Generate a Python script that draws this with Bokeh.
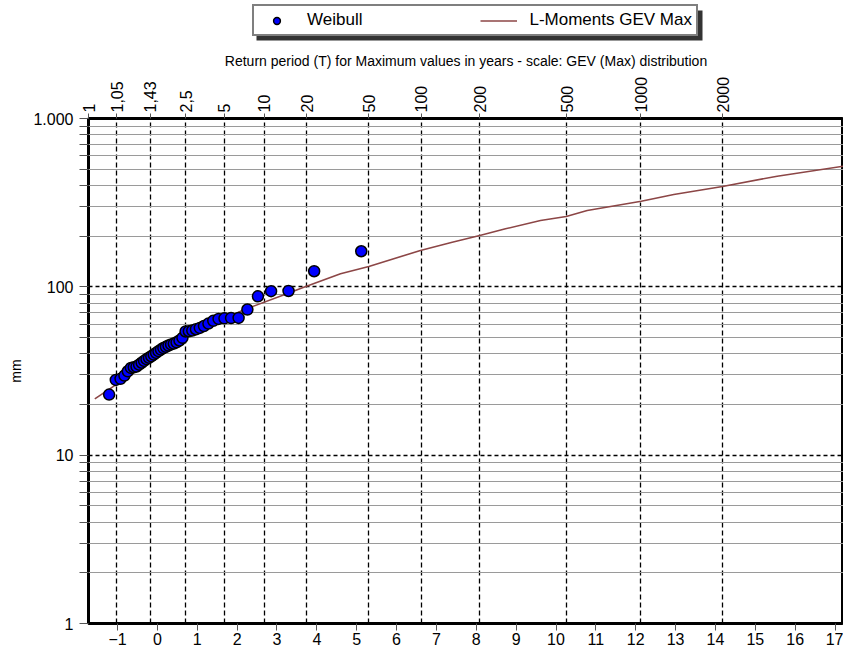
import math
from bokeh.plotting import figure
from bokeh.layouts import column
from bokeh.models import (Range1d, FixedTicker, LinearAxis, CustomJSTickFormatter,
                          Legend, LegendItem, BoxAnnotation)
from bokeh.embed import file_html
from bokeh.resources import INLINE

# ---- horizontal scale: GEV (Max) reduced variate, shape k ----
GEV_K = -0.15
X_START, X_END = -1.729, 17.213


def gev_variate(F):
    u = -math.log(F)
    return (1.0 - u ** GEV_K) / GEV_K


# ---- data ----
# sorted annual maxima (mm), plotted at Weibull plotting positions i/(n+1)
weibull_mm = [22.9, 28.0, 28.4, 29.7, 31.5, 33.0, 33.3, 33.6, 34.5, 35.4,
              36.3, 37.2, 37.9, 38.7, 39.6, 40.5, 41.5, 42.4, 43.3, 44.0,
              44.8, 45.5, 46.0, 46.8, 48.0, 49.8, 54.3, 54.5, 55.0, 56.0,
              57.0, 58.5, 60.5, 62.8, 64.5, 65.0, 65.2, 65.4, 73.3, 87.8,
              94.2, 94.5, 123.8, 162.7]

# L-Moments GEV Max fitted curve (reduced variate, mm)
curve_x = [-1.571, -1.009, -0.130, 0.705, 1.666, 2.168, 3.214, 3.673, 4.594,
           5.304, 6.598, 7.396, 8.088, 8.733, 9.611, 10.256, 10.783, 12.138,
           12.955, 14.177, 15.549, 17.213]
curve_mm = [21.6, 26.5, 36.5, 50.2, 64.3, 73.0, 90.5, 99.4, 119.5,
            132.0, 164.5, 184.1, 201.8, 221.1, 247.7, 261.6, 284.0, 322.6,
            353.5, 394.5, 454.2, 520.6]

return_periods = [1, 1.05, 1.43, 2.5, 5, 10, 20, 50, 100, 200, 500, 1000, 2000]
return_labels = ["1", "1,05", "1,43", "2,5", "5", "10", "20", "50", "100",
                 "200", "500", "1000", "2000"]
variate_ticks = list(range(-1, 18))
y_major = [1, 10, 100, 1000]
y_labels = ["1", "10", "100", "1.000"]

n = len(weibull_mm)
weibull_x = [gev_variate(i / (n + 1)) for i in range(1, n + 1)]
t_positions = [X_START + 0.01 if T == 1 else gev_variate(1 - 1 / T)
               for T in return_periods]
y_minor = [m * 10 ** e for e in range(0, 3) for m in range(2, 10)]

FONT = "Liberation Sans"
W = 843
LEFT = 88
LEG_H = 42

p = figure(width=W, height=656 - LEG_H, x_range=Range1d(X_START, X_END),
           y_range=Range1d(1, 1000), y_axis_type="log",
           output_backend="svg", toolbar_location=None,
           min_border_left=LEFT, min_border_right=0,
           min_border_top=118 - LEG_H, min_border_bottom=33)
p.title.visible = False
p.outline_line_color = "black"
p.outline_line_width = 3
p.background_fill_color = "white"
p.border_fill_color = "white"

# y axis
yt = FixedTicker(ticks=y_major, minor_ticks=y_minor)
p.yaxis.ticker = yt
p.yaxis.formatter = CustomJSTickFormatter(
    args=dict(vals=y_major, labels=y_labels),
    code="for (let i=0;i<vals.length;i++){ if (Math.abs(tick-vals[i])<1e-6*vals[i]) return labels[i]; } return '';")
p.yaxis.axis_line_color = None
p.yaxis.major_tick_out = 9
p.yaxis.major_tick_in = 0
p.yaxis.minor_tick_out = 9
p.yaxis.minor_tick_in = 0
p.yaxis.major_tick_line_color = "#555555"
p.yaxis.minor_tick_line_color = "#555555"
p.yaxis.major_label_standoff = 6
p.yaxis.major_label_text_font = FONT
p.yaxis.major_label_text_font_size = "16px"
p.yaxis.major_label_text_color = "black"
p.yaxis.axis_label = "mm"
p.yaxis.axis_label_text_font = FONT
p.yaxis.axis_label_text_font_size = "14px"
p.yaxis.axis_label_text_font_style = "normal"
p.yaxis.axis_label_text_color = "black"
p.yaxis.axis_label_standoff = 6

p.ygrid.ticker = yt
p.ygrid.grid_line_color = "black"
p.ygrid.grid_line_dash = "4 3"
p.ygrid.grid_line_width = 1.3
p.ygrid.minor_grid_line_color = "#9a9a9a"
p.ygrid.minor_grid_line_width = 1

# bottom axis (reduced variate)
p.xaxis.ticker = FixedTicker(ticks=variate_ticks, minor_ticks=[])
p.xaxis.axis_line_color = None
p.xaxis.major_tick_out = 7
p.xaxis.major_tick_in = 0
p.xaxis.minor_tick_out = 0
p.xaxis.major_tick_line_color = "#555555"
p.xaxis.major_label_standoff = 2
p.xaxis.major_label_text_font = FONT
p.xaxis.major_label_text_font_size = "16px"
p.xaxis.major_label_text_color = "black"

tt = FixedTicker(ticks=t_positions, minor_ticks=[])
p.xgrid.ticker = tt
p.xgrid.grid_line_color = "black"
p.xgrid.grid_line_dash = "5 3"
p.xgrid.grid_line_width = 1.3

# top axis (return period)
top = LinearAxis(ticker=tt,
                 formatter=CustomJSTickFormatter(
                     args=dict(vals=t_positions, labels=return_labels),
                     code="for (let i=0;i<vals.length;i++){ if (Math.abs(tick-vals[i])<1e-6) return labels[i]; } return '';"),
                 axis_label="Return period (T) for Maximum values in years - scale: GEV (Max) distribution")
top.axis_line_color = None
top.major_tick_out = 5
top.major_tick_in = 0
top.minor_tick_out = 0
top.major_tick_line_color = "#555555"
top.major_label_orientation = "vertical"
top.major_label_standoff = 1
top.major_label_text_font = FONT
top.major_label_text_font_size = "16px"
top.major_label_text_color = "black"
top.axis_label_text_font = FONT
top.axis_label_text_font_size = "14px"
top.axis_label_text_font_style = "normal"
top.axis_label_text_color = "black"
top.axis_label_standoff = 5
p.add_layout(top, "above")

# data
r_line = p.line(curve_x, curve_mm, line_color="#8c4646", line_width=1.6)
r_pts = p.scatter(weibull_x, weibull_mm, size=11, fill_color="#0000ff",
                  line_color="black", line_width=1.5)

# ---- legend strip (separate figure so the legend is not clipped) ----
# its frame is aligned with the main frame (page x = LEFT .. W), so the
# x range is set in page pixels
lf = figure(width=W, height=LEG_H, x_range=Range1d(LEFT, W), y_range=Range1d(0, LEG_H),
            x_axis_type=None, y_axis_type=None, output_backend="svg",
            toolbar_location=None, min_border=0, min_border_left=LEFT)
lf.title.visible = False
lf.outline_line_color = None
lf.background_fill_color = "white"
lf.border_fill_color = "white"
lf.grid.visible = False

# legend proxies (same data, lie outside this strip's ranges, so only the
# legend glyphs show)
l_pts = lf.scatter(weibull_x, weibull_mm, size=11, fill_color="#0000ff",
                   line_color="black", line_width=1.5)
l_line = lf.line(curve_x, curve_mm, line_color="#8c4646", line_width=1.6)

shadow = BoxAnnotation(left=256, right=702, top=LEG_H - 10, bottom=LEG_H - 40,
                       fill_color="#333333", fill_alpha=1, line_color=None)
lf.add_layout(shadow)

legend = Legend(items=[LegendItem(label="Weibull", renderers=[l_pts]),
                       LegendItem(label="L-Moments GEV Max", renderers=[l_line])],
                orientation="horizontal", location=(252 - LEFT, LEG_H - 36))
legend.label_text_font = FONT
legend.label_text_font_size = "17px"
legend.label_text_color = "black"
legend.glyph_width = 37
legend.glyph_height = 17
legend.label_height = 17
legend.padding = 4
legend.spacing = 118
legend.label_standoff = 12
legend.margin = 0
legend.border_line_color = "black"
legend.border_line_width = 2
legend.background_fill_color = "white"
legend.background_fill_alpha = 1
lf.add_layout(legend)

layout = column(lf, p, spacing=0)
open("out.html", "w").write(file_html(layout, INLINE))
